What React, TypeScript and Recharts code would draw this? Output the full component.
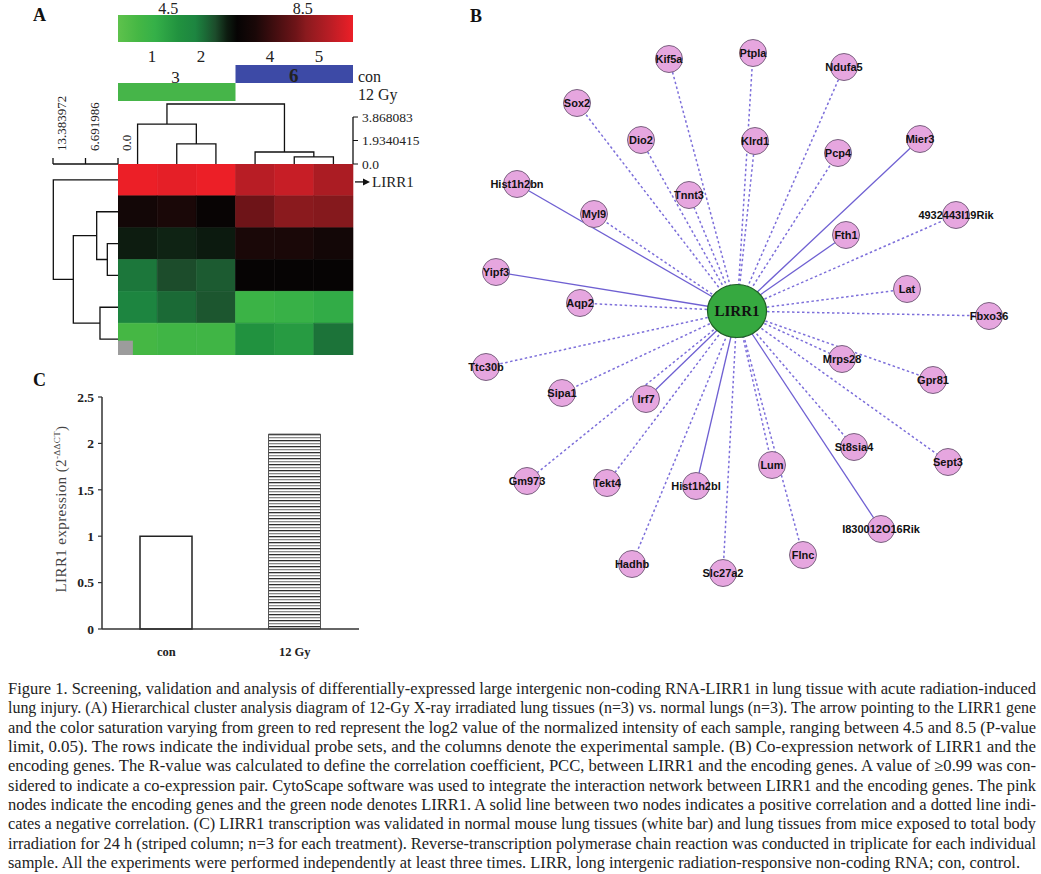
import React from "react";
import { ScatterChart, Scatter, XAxis, YAxis, ReferenceArea, BarChart, Bar, Cell } from "recharts";

const SERIF = '"Liberation Serif", "Times New Roman", serif';
const SANS = '"Liberation Sans", Arial, sans-serif';

// ---------- A: cluster heatmap ----------
// log2 normalized intensity, rows = probe sets, cols = samples
const heatValues = [
  [10.0, 9.9, 10.0, 9.3, 9.5, 9.1],
  [6.9, 7.1, 6.6, 8.3, 8.6, 8.55],
  [6.25, 6.2, 6.28, 7.1, 7.1, 6.9],
  [5.45, 5.9, 5.75, 6.55, 6.55, 6.55],
  [5.3, 5.6, 5.8, 3.9, 4.0, 4.2],
  [3.6, 3.75, 3.75, 4.8, 4.6, 5.5],
];
const rowLabels = ["LIRR1", "", "", "", "", ""];
const keyDomain = [3, 10];
const keyTicks = [4.5, 8.5];

// linkage: [childA, childB, distance], new clusters numbered from 6
const colLinkage = [
  [1, 2, 1.65],
  [0, 6, 3.29],
  [4, 5, 0.58],
  [3, 8, 0.99],
  [7, 9, 4.94],
];
const colDistTicks = [0, 1.9340415, 3.868083];
const rowLinkage = [
  [2, 3, 2.2],
  [1, 6, 4.39],
  [4, 5, 3.71],
  [7, 8, 9.2],
  [0, 9, 13.32],
];
const rowDistTicks = [0, 6.691986, 13.383972];

const groupNames = ["con", "12 Gy"];
const groupFrom = [3, 0];
const groupTo = [6, 3];
const groupTrack = [1, 2];

const sampleLabels = ["1", "2", "3", "4", "5", "6"];
const sampleLabelPos = [0.87, 2.12, 1.47, 3.88, 5.13, 4.49];
const sampleLabelTrack = [0.55, 0.55, 1.68, 0.55, 0.55, 1.6];

// ---------- B: co-expression network ----------
const genes = [
  "Kif5a", "Ptpla", "Ndufa5", "Sox2", "Dio2", "Klrd1", "Pcp4", "Mier3",
  "Hist1h2bn", "Tnnt3", "Myl9", "4932443I19Rik", "Fth1", "Yipf3", "Lat", "Aqp2",
  "Fbxo36", "Ttc30b", "Mrps28", "Sipa1", "Irf7", "Gpr81", "St8sia4", "Sept3",
  "Gm973", "Tekt4", "Hist1h2bl", "Lum", "I830012O16Rik", "Flnc", "Hadhb", "Slc27a2",
];
const geneX = [
  -68, 16, 107, -160, -96, 18, 101, 183,
  -220, -48, -143, 219, 109, -241, 170, -157,
  252, -251, 105, -175, -91, 196, 117, 211,
  -210, -130, -41, 35, 144, 66, -105, -14,
];
const geneY = [
  -252, -258, -244, -208, -171, -170, -158, -172,
  -127, -116, -97, -96, -76, -39, -22, -8,
  5, 56, 48, 82, 88, 69, 136, 151,
  170, 172, 175, 154, 218, 244, 253, 262,
];
const positiveGenes = ["Hist1h2bn", "Yipf3", "Mier3", "Fth1", "Irf7", "Hist1h2bl", "I830012O16Rik"];

// ---------- C: qPCR ----------
const conditions = ["con", "12 Gy"];
const expression = [1, 2.1];
const expressionTicks = [0, 0.5, 1, 1.5, 2, 2.5];

const captionLines = [
  "Figure 1. Screening, validation and analysis of differentially-expressed large intergenic non-coding RNA-LIRR1 in lung tissue with acute radiation-induced",
  "lung injury. (A) Hierarchical cluster analysis diagram of 12-Gy X-ray irradiated lung tissues (n=3) vs. normal lungs (n=3). The arrow pointing to the LIRR1 gene",
  "and the color saturation varying from green to red represent the log2 value of the normalized intensity of each sample, ranging between 4.5 and 8.5 (P-value",
  "limit, 0.05). The rows indicate the individual probe sets, and the columns denote the experimental sample. (B) Co-expression network of LIRR1 and the",
  "encoding genes. The R-value was calculated to define the correlation coefficient, PCC, between LIRR1 and the encoding genes. A value of \u22650.99 was con-",
  "sidered to indicate a co-expression pair. CytoScape software was used to integrate the interaction network between LIRR1 and the encoding genes. The pink",
  "nodes indicate the encoding genes and the green node denotes LIRR1. A solid line between two nodes indicates a positive correlation and a dotted line indi-",
  "cates a negative correlation. (C) LIRR1 transcription was validated in normal mouse lung tissues (white bar) and lung tissues from mice exposed to total body",
  "irradiation for 24 h (striped column; n=3 for each treatment). Reverse-transcription polymerase chain reaction was conducted in triplicate for each individual",
  "sample. All the experiments were performed independently at least three times. LIRR, long intergenic radiation-responsive non-coding RNA; con, control.",
];

// colour scale (value -> colour) used by both heatmap and key
const colorScale: [number, string][] = [
  [3.0, "#5ec24c"],
  [3.6, "#45b744"],
  [4.1, "#35b048"],
  [4.8, "#21923f"],
  [5.3, "#1d8540"],
  [5.6, "#1b6a36"],
  [5.9, "#1c4c2b"],
  [6.25, "#0d1c10"],
  [6.55, "#060404"],
  [7.1, "#1a0808"],
  [8.3, "#6e1418"],
  [8.6, "#8a1a1e"],
  [9.3, "#b81d25"],
  [10.0, "#ec1f27"],
];

function mixHex(a: string, b: string, t: number) {
  const pa = [1, 3, 5].map((i) => parseInt(a.slice(i, i + 2), 16));
  const pb = [1, 3, 5].map((i) => parseInt(b.slice(i, i + 2), 16));
  const c = pa.map((v, i) => Math.round(v + (pb[i] - v) * t));
  return "#" + c.map((v) => v.toString(16).padStart(2, "0")).join("");
}

function heatColor(v: number) {
  if (v <= colorScale[0][0]) return colorScale[0][1];
  for (let i = 1; i < colorScale.length; i++) {
    const [v1, c1] = colorScale[i];
    if (v <= v1) {
      const [v0, c0] = colorScale[i - 1];
      return mixHex(c0, c1, (v - v0) / (v1 - v0));
    }
  }
  return colorScale[colorScale.length - 1][1];
}

// turn a linkage table into U-shaped polylines (pos along leaves, dist)
function dendroLinks(linkage: number[][], leaves: number) {
  const pos: number[] = [];
  const dist: number[] = [];
  for (let i = 0; i < leaves; i++) {
    pos.push(i + 0.5);
    dist.push(0);
  }
  const links: { p: number; d: number }[][] = [];
  linkage.forEach(([a, b, h]) => {
    links.push([
      { p: pos[a], d: dist[a] },
      { p: pos[a], d: h },
      { p: pos[b], d: h },
      { p: pos[b], d: dist[b] },
    ]);
    pos.push((pos[a] + pos[b]) / 2);
    dist.push(h);
  });
  return links;
}

const noShape = () => <g />;
const fmtDist = (v: number) => (v === 0 ? "0.0" : String(v));
const zero = { top: 0, right: 0, bottom: 0, left: 0 };
const abs = (left: number, top: number): React.CSSProperties => ({ position: "absolute", left, top });

const KeyTick = (props: any) => (
  <text x={props.x} y={props.y - 1} textAnchor="middle" fontFamily={SERIF} fontSize={16} fill="#222">
    {props.payload.value}
  </text>
);

const RotatedTick = (props: any) => {
  const x = props.x + 13;
  const y = props.y;
  return (
    <text x={x} y={y} transform={`rotate(-90 ${x} ${y})`} textAnchor="start" fontFamily={SERIF} fontSize={13} fill="#222">
      {fmtDist(props.payload.value)}
    </text>
  );
};

const ArrowTick = (props: any) => {
  const { x, y, payload } = props;
  const label = rowLabels[Math.floor(payload.value)];
  if (!label) return <g />;
  return (
    <g>
      <line x1={x + 2} y1={y + 2} x2={x + 12} y2={y + 2} stroke="#111" strokeWidth={1.3} />
      <polygon points={`${x + 17},${y + 2} ${x + 10},${y - 1.5} ${x + 10},${y + 5.5}`} fill="#111" />
      <text x={x + 19} y={y + 7} fontFamily={SERIF} fontSize={15} fill="#222">
        {label}
      </text>
    </g>
  );
};

const GroupTick = (props: any) => {
  const idx = groupTrack.indexOf(props.payload.value - 0.5);
  return (
    <text x={props.x} y={props.y + 8} textAnchor="start" fontFamily={SERIF} fontSize={16} fill="#222">
      {groupNames[idx]}
    </text>
  );
};

const SampleLabel = (props: any) => (
  <text
    x={props.cx}
    y={props.cy}
    textAnchor="middle"
    dominantBaseline="central"
    fontFamily={SERIF}
    fontSize={props.payload.label === "6" ? 19 : 17}
    fontWeight={props.payload.label === "6" ? "bold" : "normal"}
    fill="#222"
  >
    {props.payload.label}
  </text>
);

const GeneNode = (props: any) => (
  <g>
    <circle cx={props.cx} cy={props.cy} r={13.5} fill="#e6a6df" stroke="#7a6280" strokeWidth={1} />
    <text x={props.cx} y={props.cy} textAnchor="middle" dominantBaseline="central" fontFamily={SANS} fontWeight="bold" fontSize={11} fill="#111">
      {props.payload.name}
    </text>
  </g>
);

const CenterNode = (props: any) => (
  <g>
    <ellipse cx={props.cx} cy={props.cy} rx={29.5} ry={26.5} fill="#36a940" stroke="#1f5f25" strokeWidth={1.2} />
    <text x={props.cx} y={props.cy} textAnchor="middle" dominantBaseline="central" fontFamily={SERIF} fontWeight="bold" fontSize={15} fill="#111">
      {props.payload.name}
    </text>
  </g>
);

const YLabel = (props: any) => {
  const vb = props.viewBox || { x: 0, y: 0, width: 72, height: 232 };
  const x = vb.x + 36;
  const y = vb.y + vb.height / 2 - 4;
  return (
    <text x={x} y={y} transform={`rotate(-90 ${x} ${y})`} textAnchor="middle" fontFamily={SERIF} fontSize={15} fill="#444" letterSpacing={0.4}>
      LIRR1 expression (2
      <tspan fontSize={9} dy={-6}>-ΔΔCT</tspan>
      <tspan dy={6}>)</tspan>
    </text>
  );
};

function PanelA() {
  const colLinks = dendroLinks(colLinkage, 6);
  const rowLinks = dendroLinks(rowLinkage, 6);
  const cells = heatValues.flatMap((row, r) => row.map((v, c) => ({ x: c + 0.5, y: r + 0.5, r, c, v })));
  const labelPts = sampleLabels.map((label, i) => ({ x: sampleLabelPos[i], y: sampleLabelTrack[i], label }));
  const [k0, k1] = keyDomain;
  return (
    <>
      {/* colour key */}
      <div style={abs(118, 0)}>
        <ScatterChart width={235} height={42} margin={zero}>
          <defs>
            <linearGradient id="keyGrad" x1="0" x2="1" y1="0" y2="0">
              {colorScale.map(([v, c]) => (
                <stop key={v} offset={(v - k0) / (k1 - k0)} stopColor={c} />
              ))}
            </linearGradient>
          </defs>
          <XAxis type="number" dataKey="x" orientation="top" domain={keyDomain} ticks={keyTicks} height={15} axisLine={false} tickLine={false} tickSize={0} tickMargin={0} tick={KeyTick} />
          <YAxis type="number" dataKey="y" domain={[0, 1]} hide />
          <ReferenceArea x1={k0} x2={k1} y1={0} y2={1} fill="url(#keyGrad)" fillOpacity={1} stroke="none" />
          <Scatter data={[{ x: 6.5, y: 0.5 }]} shape={noShape} isAnimationActive={false} />
        </ScatterChart>
      </div>

      {/* group tracks */}
      <div style={abs(118, 47)}>
        <ScatterChart width={305} height={60} margin={zero}>
          <XAxis type="number" dataKey="x" domain={[0, 6]} hide />
          <YAxis
            type="number"
            dataKey="y"
            orientation="right"
            domain={[0, 60 / 18]}
            reversed
            width={70}
            ticks={groupTrack.map((t) => t + 0.5)}
            interval={0}
            axisLine={false}
            tickLine={false}
            tickSize={0}
            tickMargin={5}
            tick={GroupTick}
          />
          {groupNames.map((g, i) => (
            <ReferenceArea key={g} x1={groupFrom[i]} x2={groupTo[i]} y1={groupTrack[i]} y2={groupTrack[i] + 1} fill={i === 0 ? "#3d4aa6" : "#46b549"} fillOpacity={1} stroke="none" />
          ))}
          <Scatter data={labelPts} shape={SampleLabel} isAnimationActive={false} />
        </ScatterChart>
      </div>

      {/* column dendrogram */}
      <div style={abs(118, 100)}>
        <ScatterChart width={315} height={72} margin={{ top: 0, right: 0, bottom: 8, left: 0 }}>
          <XAxis type="number" dataKey="x" domain={[0, 6]} hide />
          <YAxis
            type="number"
            dataKey="y"
            orientation="right"
            domain={[0, 5.27]}
            ticks={colDistTicks}
            interval={0}
            tickFormatter={fmtDist}
            width={80}
            axisLine={false}
            tickSize={5}
            tickMargin={4}
            tickLine={{ stroke: "#111" }}
            tick={{ fontSize: 13.5, fontFamily: SERIF, fill: "#222" }}
          />
          {colLinks.map((l, i) => (
            <Scatter key={i} data={l.map((p) => ({ x: p.p, y: p.d }))} line={{ stroke: "#111", strokeWidth: 1.3 }} shape={noShape} isAnimationActive={false} />
          ))}
          <Scatter data={[{ x: 6, y: 0 }, { x: 6, y: colDistTicks[2] }]} line={{ stroke: "#111", strokeWidth: 1.3 }} shape={noShape} isAnimationActive={false} />
        </ScatterChart>
      </div>

      {/* row dendrogram */}
      <div style={abs(0, 80)}>
        <ScatterChart width={145} height={275} margin={{ top: 14, right: 27, bottom: 0, left: 53 }}>
          <XAxis
            type="number"
            dataKey="x"
            orientation="top"
            domain={[0, rowDistTicks[2]]}
            reversed
            ticks={rowDistTicks}
            height={70}
            tickSize={6}
            tickMargin={7}
            axisLine={{ stroke: "#111", strokeWidth: 1.3 }}
            tickLine={{ stroke: "#111", strokeWidth: 1.3 }}
            tick={RotatedTick}
            interval={0}
          />
          <YAxis type="number" dataKey="y" domain={[0, 6]} reversed hide />
          {rowLinks.map((l, i) => (
            <Scatter key={i} data={l.map((p) => ({ x: p.d, y: p.p }))} line={{ stroke: "#111", strokeWidth: 1.3 }} shape={noShape} isAnimationActive={false} />
          ))}
        </ScatterChart>
      </div>

      {/* heatmap */}
      <div style={abs(118, 164)}>
        <ScatterChart width={335} height={191} margin={zero}>
          <XAxis type="number" dataKey="x" domain={[0, 6]} hide />
          <YAxis
            type="number"
            dataKey="y"
            orientation="right"
            domain={[0, 6]}
            reversed
            width={100}
            ticks={rowLabels.map((l, i) => (l ? i + 0.5 : -1)).filter((v) => v >= 0)}
            interval={0}
            axisLine={false}
            tickLine={false}
            tickSize={0}
            tickMargin={0}
            tick={ArrowTick}
          />
          {cells.map((d) => (
            <ReferenceArea key={`${d.r}-${d.c}`} x1={d.c} x2={d.c + 1} y1={d.r} y2={d.r + 1} fill={heatColor(d.v)} fillOpacity={1} stroke={heatColor(d.v)} strokeWidth={0.6} />
          ))}
          <ReferenceArea x1={0} x2={0.38} y1={5.55} y2={6} fill="#9c9c9c" fillOpacity={1} stroke="none" />
          <Scatter data={cells} shape={noShape} isAnimationActive={false} />
        </ScatterChart>
      </div>
    </>
  );
}

function PanelB() {
  const nodes = genes.map((name, i) => ({ x: geneX[i], y: geneY[i], name }));
  return (
    <div style={abs(455, 20)}>
      <ScatterChart width={586} height={580} margin={zero}>
        <XAxis type="number" dataKey="x" domain={[-282, 304]} hide />
        <YAxis type="number" dataKey="y" domain={[-291, 289]} reversed hide />
        {nodes.map((n) => {
          const pos = positiveGenes.includes(n.name);
          return (
            <Scatter
              key={"e-" + n.name}
              data={[{ x: 0, y: 0 }, { x: n.x, y: n.y }]}
              line={pos ? { stroke: "#6f60d2", strokeWidth: 1.3 } : { stroke: "#7d6fda", strokeWidth: 1.5, strokeDasharray: "2.5 2.5" }}
              shape={noShape}
              isAnimationActive={false}
            />
          );
        })}
        <Scatter data={nodes} shape={GeneNode} isAnimationActive={false} />
        <Scatter data={[{ x: 0, y: 0, name: "LIRR1" }]} shape={CenterNode} isAnimationActive={false} />
      </ScatterChart>
    </div>
  );
}

function PanelC() {
  const data = conditions.map((name, i) => ({ name, value: expression[i] }));
  return (
    <div style={abs(30, 380)}>
      <BarChart width={340} height={290} data={data} margin={{ top: 17, right: 11, bottom: 0, left: 0 }}>
        <defs>
          <pattern id="stripes" width="8" height="6" patternUnits="userSpaceOnUse">
            <rect width="8" height="6" fill="#ffffff" />
            <rect y="0" width="8" height="1.3" fill="#2e2e2e" />
            <rect y="3" width="8" height="1.3" fill="#8a8a8a" />
          </pattern>
        </defs>
        <XAxis
          dataKey="name"
          height={41}
          tickLine={false}
          tickSize={0}
          tickMargin={18}
          axisLine={{ stroke: "#333", strokeWidth: 1.5 }}
          tick={{ fontSize: 12.5, fontFamily: SERIF, fontWeight: "bold", fill: "#222" }}
        />
        <YAxis
          width={72}
          domain={[0, 2.5]}
          ticks={expressionTicks}
          interval={0}
          tickSize={4}
          tickMargin={4}
          axisLine={{ stroke: "#333", strokeWidth: 1.5 }}
          tickLine={{ stroke: "#333", strokeWidth: 1.2 }}
          tick={{ fontSize: 13.5, fontFamily: SERIF, fontWeight: "bold", fill: "#222" }}
          label={<YLabel />}
        />
        <Bar dataKey="value" barSize={52} isAnimationActive={false}>
          {data.map((d, i) => (
            <Cell key={d.name} fill={i === 0 ? "#ffffff" : "url(#stripes)"} stroke={i === 0 ? "#222" : "#555"} strokeWidth={i === 0 ? 1.5 : 1} />
          ))}
        </Bar>
      </BarChart>
    </div>
  );
}

const Letter = ({ ch, left, top }: { ch: string; left: number; top: number }) => (
  <div style={{ ...abs(left, top), fontFamily: SERIF, fontWeight: "bold", fontSize: 18, lineHeight: "18px", color: "#111" }}>{ch}</div>
);

export default function App() {
  return (
    <div style={{ position: "absolute", left: 0, top: 0, width: 1041, height: 874, background: "#fff", overflow: "hidden" }}>
      <Letter ch="A" left={33} top={6} />
      <Letter ch="B" left={470} top={7} />
      <Letter ch="C" left={33} top={371} />
      <PanelA />
      <PanelB />
      <PanelC />
      <svg width={1041} height={200} style={abs(0, 674)}>
        {captionLines.map((line, i) => (
          <text
            key={i}
            x={8}
            y={20 + i * 19.33}
            textLength={i === captionLines.length - 1 ? 1012 : 1028}
            lengthAdjust="spacingAndGlyphs"
            fontFamily={SERIF}
            fontSize={16}
            fill="#222"
          >
            {line}
          </text>
        ))}
      </svg>
    </div>
  );
}
